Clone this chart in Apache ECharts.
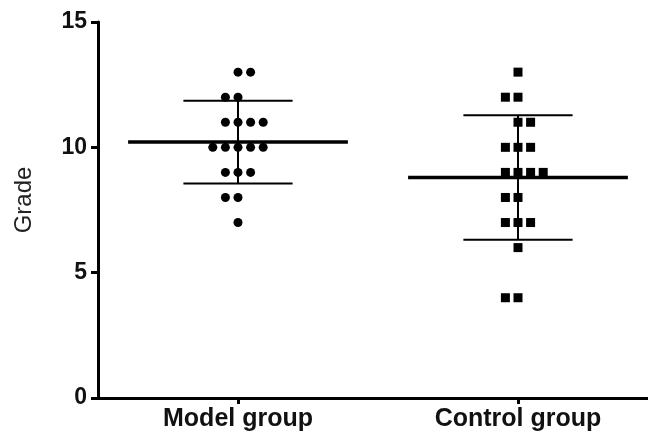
<!DOCTYPE html>
<html><head><meta charset="utf-8">
<script src="https://cdn.jsdelivr.net/npm/echarts@6/dist/echarts.min.js"></script>
<style>html,body{margin:0;padding:0;background:#fff}#c{width:648px;height:436px}</style>
</head><body><div id="c"></div>
<script>
// ---- data ----
const categories = ['Model group', 'Control group'];
const modelValues = [13,13,12,12,11,11,11,11,10,10,10,10,10,9,9,9,8,8,7];
const controlValues = [13,12,12,11,11,10,10,10,9,9,9,9,8,8,7,7,7,6,4,4];
const yTicks = [0, 5, 10, 15];

// ---- layout constants ----
const GROUP_POS = [1, 3];
const X_MAX = 550 / 140;
const SLOT = 0.09;
const MEAN_HALF = 0.785;
const CAP_HALF = 0.39;

function swarm(values, center) {
  const counts = {};
  values.forEach(v => counts[v] = (counts[v] || 0) + 1);
  const pts = [];
  Object.keys(counts).forEach(k => {
    const v = +k, n = counts[k];
    let start;
    if (n % 2) start = -(n - 1) / 2;
    else start = (v % 2) ? -(n / 2 - 1) : -n / 2;
    for (let i = 0; i < n; i++) pts.push([center + (start + i) * SLOT, v]);
  });
  return pts;
}
function stats(arr) {
  const n = arr.length, m = arr.reduce((a, b) => a + b, 0) / n;
  const sd = Math.sqrt(arr.reduce((a, b) => a + (b - m) * (b - m), 0) / (n - 1));
  return [m, sd];
}
const groups = [modelValues, controlValues];
const summary = groups.map((g, i) => { const s = stats(g); return [GROUP_POS[i], s[0], s[1]]; });

const chart = echarts.init(document.getElementById('c'), null, { renderer: 'canvas' });
const FONT = '"Liberation Sans", Arial, sans-serif';
chart.setOption({
  animation: false,
  backgroundColor: '#ffffff',
  grid: { left: 98, right: 0, top: 22, bottom: 38 },
  xAxis: {
    type: 'value', min: 0, max: X_MAX,
    splitLine: { show: false },
    axisLine: { show: true, lineStyle: { color: '#000', width: 3 } },
    axisTick: { show: true, customValues: GROUP_POS, length: 6, lineStyle: { color: '#000', width: 3 } },
    axisLabel: {
      customValues: GROUP_POS, margin: 9,
      fontFamily: FONT, fontSize: 25, fontWeight: 'bold', color: '#111',
      formatter: v => categories[GROUP_POS.findIndex(p => Math.abs(p - v) < 1e-6)] || ''
    }
  },
  yAxis: {
    type: 'value', min: yTicks[0], max: yTicks[yTicks.length - 1], interval: 5,
    splitLine: { show: false },
    axisLine: { show: true, lineStyle: { color: '#000', width: 3 } },
    axisTick: { show: true, length: 7, lineStyle: { color: '#000', width: 3 } },
    axisLabel: { margin: 11, fontFamily: FONT, fontSize: 23, fontWeight: 'bold', color: '#111' },
    name: 'Grade', nameLocation: 'middle', nameGap: 62,
    nameTextStyle: { fontFamily: FONT, fontSize: 24, color: '#222', padding: [0, 0, 0, 20] }
  },
  series: [
    { type: 'scatter', symbol: 'circle', symbolSize: 9, itemStyle: { color: '#000', opacity: 1 },
      data: swarm(modelValues, GROUP_POS[0]) },
    { type: 'scatter', symbol: 'rect', symbolSize: 9, itemStyle: { color: '#000', opacity: 1 },
      data: swarm(controlValues, GROUP_POS[1]) },
    { type: 'custom', data: summary, z: 3,
      renderItem: function (params, api) {
        const x = api.value(0), m = api.value(1), s = api.value(2);
        const L = (a, b, w) => ({ type: 'line', shape: { x1: a[0], y1: a[1], x2: b[0], y2: b[1] },
          style: { stroke: '#000', lineWidth: w } });
        return { type: 'group', children: [
          L(api.coord([x - MEAN_HALF, m]), api.coord([x + MEAN_HALF, m]), 3.5),
          L(api.coord([x, m - s]), api.coord([x, m + s]), 2),
          L(api.coord([x - CAP_HALF, m + s]), api.coord([x + CAP_HALF, m + s]), 2),
          L(api.coord([x - CAP_HALF, m - s]), api.coord([x + CAP_HALF, m - s]), 2)
        ] };
      }
    }
  ]
});
</script></body></html>
